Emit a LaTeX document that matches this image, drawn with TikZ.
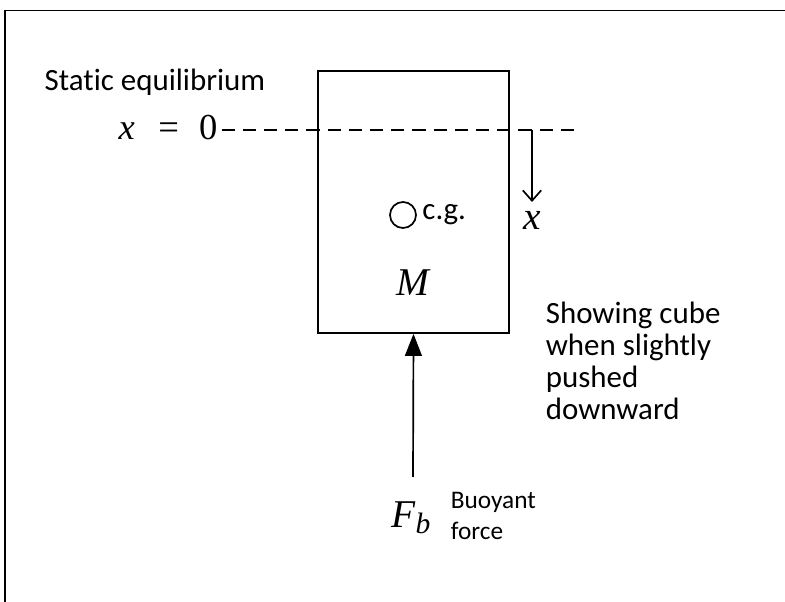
\documentclass[tikz,border=0pt]{standalone}
\usepackage{fontspec}
\setmainfont{Carlito}[Ligatures=NoCommon]
\newfontfamily\symfont{Liberation Serif}
\usetikzlibrary{arrows.meta, positioning}
\tikzset{
  every picture/.style={line width=1.2pt},
  txt/.style={font=\fontsize{22}{22.6}\selectfont, align=left, inner sep=0pt},
  smalltxt/.style={font=\fontsize{18}{22}\selectfont, align=left, inner sep=0pt},
  sym/.style={font=\symfont\fontsize{28}{30}\selectfont, inner sep=0pt},
  force/.style={-{Triangle[length=5.5mm, width=4.2mm]}},
  disp/.style={-{Straight Barb[length=2.6mm, width=4.6mm]}},
  level/.style={dash pattern=on 3.3mm off 2mm},
}

\begin{document}
\begin{tikzpicture}
  \useasboundingbox (0,0) rectangle (19.625,-15.05);
  % ---------- frame ----------
  \draw (0.125,-15.05) |- (19.625,-0.2625);
  % ---------- cube ----------
  \node[draw, minimum width=4.775cm, minimum height=6.55cm, inner sep=0pt] (cube) at (10.3375,-5.05) {};
  \node[circle, draw, minimum size=0.65cm, inner sep=0pt] (cg) at (10.075,-5.375) {};
  \node[txt, right=0.12cm of cg] (cglab) {c.g.};
  \node[sym] (mass) at (10.325,-7.075) {\itshape M};
  % ---------- equilibrium line ----------
  \node[txt] (static) at (3.875,-2.05) {Static equilibrium};
  \node[sym, font=\symfont\fontsize{26}{28}\selectfont] (xzero) at (4.2,-3.2)
    {\itshape x\upshape\hspace{0.65em}=\hspace{0.55em}0};
  \coordinate (lvlend) at (14.5,-3.25);
  \draw[level] ([xshift=0.08cm]xzero.east |- lvlend) -- (lvlend);
  % ---------- displacement ----------
  \coordinate (xtop) at (13.3,-3.25);
  \coordinate (xbot) at (13.3,-5.05);
  \draw[disp] (xtop) -- (xbot);
  \node[sym] (xlab) at (13.3,-5.5) {\itshape x};
  % ---------- buoyancy ----------
  \node[sym] (fb) at (10.275,-12.95) {\itshape F\raisebox{-0.15em}{\fontsize{21}{24}\selectfont b}};
  \coordinate (fbase) at (10.325,-11.925);
  \draw[force] (fbase) -- (cube.south);
  \node[smalltxt, anchor=west] (buoy) at (11.25,-12.9) {Buoyant\\force};
  \node[txt, anchor=west] (note) at (13.625,-9.025) {Showing cube\\when slightly\\pushed\\downward};
\end{tikzpicture}
\end{document}
